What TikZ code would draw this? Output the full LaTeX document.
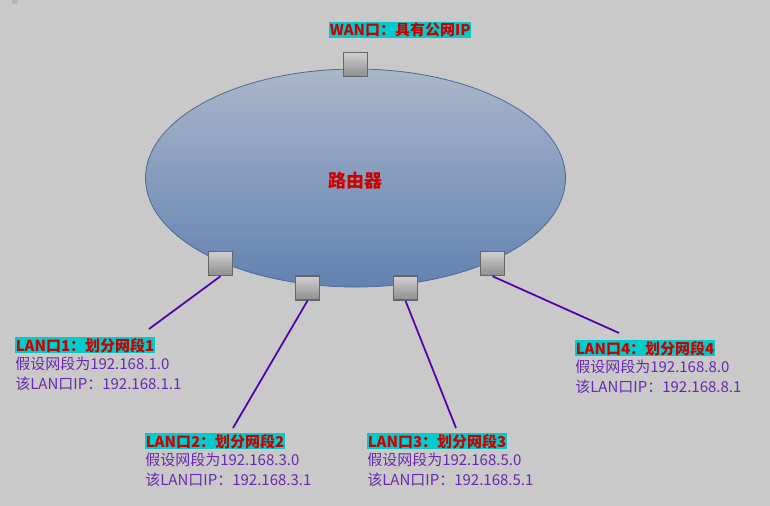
\documentclass[tikz,border=0pt]{standalone}
\usepackage{fontspec}
\setmainfont{Noto Sans CJK SC}
\usetikzlibrary{positioning,shapes.geometric}
\definecolor{pagegray}{HTML}{C9C9C9}
\definecolor{markgray}{HTML}{B6B6B6}
\definecolor{ovaltop}{HTML}{AAB6C9}
\definecolor{ovalbottom}{HTML}{6282B2}
\definecolor{ovaledge}{HTML}{4B6A94}
\definecolor{porttop}{HTML}{D0D0D0}
\definecolor{portbottom}{HTML}{8E8E8E}
\definecolor{portedge}{HTML}{666666}
\definecolor{labelcyan}{HTML}{00CCCC}
\definecolor{labelred}{HTML}{CC0000}
\definecolor{infoviolet}{HTML}{6A2AB0}
\definecolor{wireviolet}{HTML}{5200A8}
\begin{document}
\begin{tikzpicture}[x=0.75pt,y=-0.75pt,
  port/.style={rectangle, draw=portedge, line width=1.1pt, top color=porttop, bottom color=portbottom, minimum size=18pt, inner sep=0pt},
  porthead/.style={fill=labelcyan, text=labelred, font=\fontsize{11.25}{13}\selectfont\bfseries, inner xsep=0.4pt, inner ysep=0.6pt, anchor=north west},
  portinfo/.style={text=infoviolet, font=\fontsize{11.25}{14.6}\selectfont, align=left, inner sep=0pt, anchor=north west},
  wire/.style={draw=wireviolet, line width=1.3pt}]
\fill [pagegray] (0,0) rectangle (770,506);
\useasboundingbox (0,0) rectangle (770,506);
\fill [markgray] (12,0) rectangle (18,4);
% router body
\node [ellipse, draw=ovaledge, line width=0.6pt, top color=ovaltop, bottom color=ovalbottom, minimum width=315pt, minimum height=163.5pt, inner sep=0pt] (router) at (355.5,178) {};
\node [text=labelred, font=\fontsize{13.5}{15}\selectfont\bfseries] (routername) at (355,181) {路由器};
% ports
\node [port] (wan) at (355.5,64.5) {};
\node [port] (lan1) at (220.5,263.5) {};
\node [port] (lan2) at (307.5,288) {};
\node [port] (lan3) at (405.5,288) {};
\node [port] (lan4) at (492.5,263.5) {};
% labels
\node [porthead] (wanhead) at (329,22) {WAN口：具有公网IP};
\node [porthead] (lan1head) at (15,337) {LAN口1：划分网段1};
\node [portinfo, below=2.5pt of lan1head.south west, anchor=north west] (lan1info) {假设网段为192.168.1.0\\该LAN口IP：192.168.1.1};
\node [porthead] (lan2head) at (145,433) {LAN口2：划分网段2};
\node [portinfo, below=2.5pt of lan2head.south west, anchor=north west] (lan2info) {假设网段为192.168.3.0\\该LAN口IP：192.168.3.1};
\node [porthead] (lan3head) at (367,433) {LAN口3：划分网段3};
\node [portinfo, below=2.5pt of lan3head.south west, anchor=north west] (lan3info) {假设网段为192.168.5.0\\该LAN口IP：192.168.5.1};
\node [porthead] (lan4head) at (575,340) {LAN口4：划分网段4};
\node [portinfo, below=2.5pt of lan4head.south west, anchor=north west] (lan4info) {假设网段为192.168.8.0\\该LAN口IP：192.168.8.1};
% wire ends
\coordinate (lan1end) at (149,329);
\coordinate (lan2end) at (233,428);
\coordinate (lan3end) at (456,428);
\coordinate (lan4end) at (619,333);
\draw [wire] (lan1.south) -- (lan1end);
\draw [wire] (lan2.south) -- (lan2end);
\draw [wire] (lan3.south) -- (lan3end);
\draw [wire] (lan4.south) -- (lan4end);
\end{tikzpicture}
\end{document}
